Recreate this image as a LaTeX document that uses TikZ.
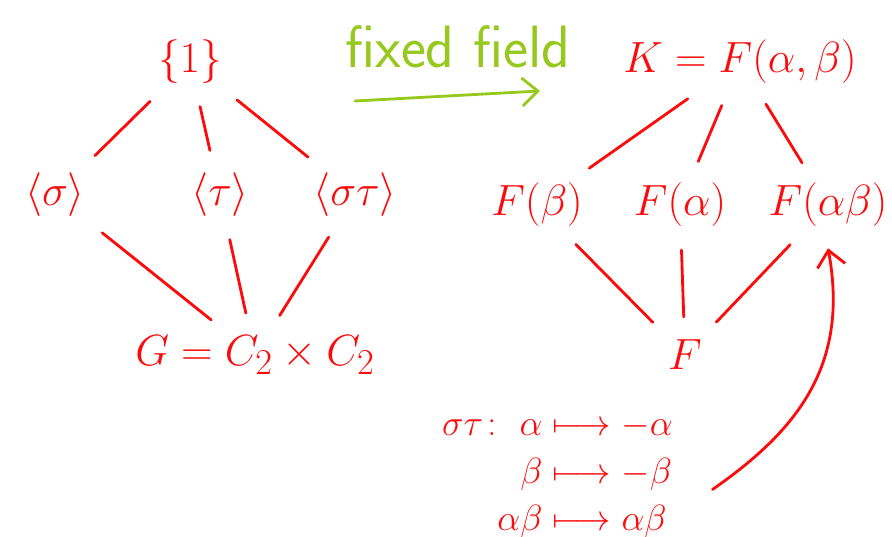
\documentclass[tikz,border=0pt]{standalone}
\usepackage{amsmath}
\usetikzlibrary{arrows.meta, positioning}
\definecolor{inkred}{RGB}{255, 10, 10}
\definecolor{inkgreen}{RGB}{150, 200, 30}
\tikzset{
    field/.style={text=inkred, font=\Huge, inner sep=2pt},
    maptext/.style={text=inkred, font=\huge, inner sep=2pt},
    link/.style={inkred, line width=1.6pt, line cap=round, shorten <=11pt, shorten >=11pt},
    bigarrow/.style={-{Straight Barb[length=9pt, width=16pt]}, line width=1.6pt, line cap=round}
}
\begin{document}
\begin{tikzpicture}
    \useasboundingbox (0,0) rectangle (17.84,10.74);

    % subgroup lattice
    \node (triv) [field] at (3.8,9.5) {$\{1\}$};
    \node (sg) [field] at (1.1,6.84) {$\langle\sigma\rangle$};
    \node (tg) [field] at (4.4,6.84) {$\langle\tau\rangle$};
    \node (stg) [field] at (7.1,6.84) {$\langle\sigma\tau\rangle$};
    \node (grp) [field] at (5.1,3.64) {$G=C_2\times C_2$};

    \draw [link] (triv) -- (sg);
    \draw [link] (triv) -- (tg);
    \draw [link] (triv) -- (stg);
    \draw [link] (sg) -- (grp);
    \draw [link] (tg) -- (grp);
    \draw [link] (stg) -- (grp);

    % fixed field arrow
    \node (fixlabel) [text=inkgreen, font=\fontsize{34}{38}\selectfont\sffamily] at (9.16,9.8) {fixed field};
    \coordinate (fixstart) at (7.1,8.72);
    \coordinate (fixend) at (10.8,8.92);
    \draw [bigarrow, inkgreen] (fixstart) -- (fixend);

    % field lattice
    \node (top) [field] at (14.8,9.5) {$K=F(\alpha,\beta)$};
    \node (fb) [field] at (10.74,6.64) {$F(\beta)$};
    \node (fa) [field] at (13.6,6.64) {$F(\alpha)$};
    \node (fab) [field] at (16.56,6.64) {$F(\alpha\beta)$};
    \node (base) [field] at (13.7,3.64) {$F$};

    \draw [link] (top) -- (fb);
    \draw [link] (top) -- (fa);
    \draw [link] (top) -- (fab);
    \draw [link] (fb) -- (base);
    \draw [link] (fa) -- (base);
    \draw [link] (fab) -- (base);

    % action of sigma tau
    \node (action) [maptext] at (11.15,1.25) {$\begin{array}{r@{\;}c@{\;}l}
        \sigma\tau\colon\ \alpha & \longmapsto & -\alpha\\[2pt]
        \beta & \longmapsto & -\beta\\[2pt]
        \alpha\beta & \longmapsto & \alpha\beta
    \end{array}$};
    \draw [bigarrow, inkred] (14.25,0.95) .. controls (15.9,2.1) and (17.0,3.4) .. ([yshift=-10pt]fab.south);
\end{tikzpicture}
\end{document}
